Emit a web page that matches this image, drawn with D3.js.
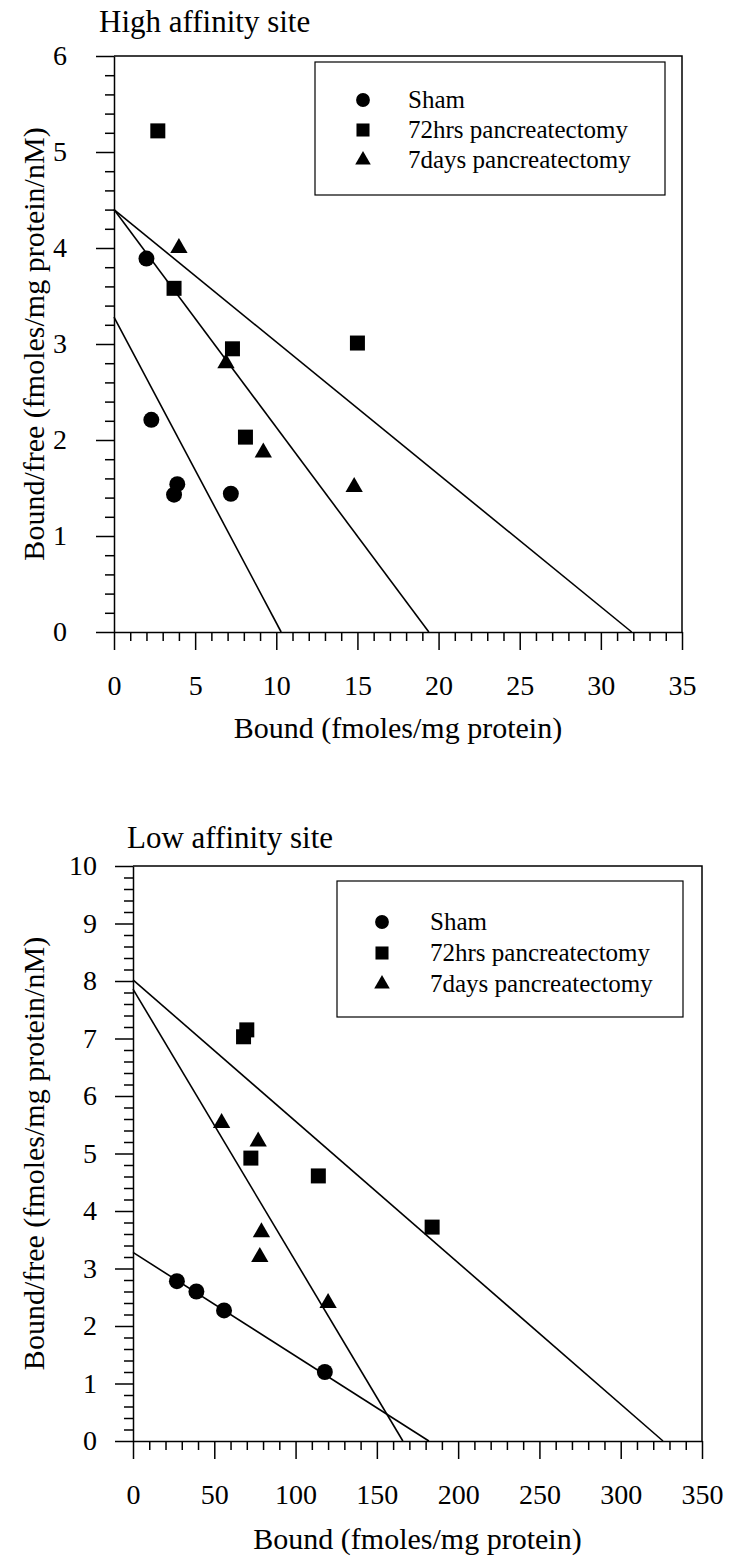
<!DOCTYPE html>
<html>
<head>
<meta charset="utf-8">
<script src="https://cdn.jsdelivr.net/npm/d3@7"></script>
<style>
  body { margin: 0; background: #fff; }
</style>
</head>
<body>
<script>
// ---- data: high affinity site (Bound, Bound/free) ----
var highSham  = [[2.0, 3.89], [2.3, 2.21], [3.9, 1.54], [3.7, 1.43], [7.2, 1.44]];
var high72hrs = [[2.7, 5.22], [3.7, 3.58], [7.3, 2.95], [8.1, 2.03], [15.0, 3.01]];
var high7days = [[4.0, 4.00], [6.9, 2.80], [9.2, 1.87], [14.8, 1.51]];
// fitted lines: y-intercept (Bound/free) and x-intercept (Bound)
var highFitY = [3.28, 4.40, 4.40];
var highFitX = [10.3, 19.4, 31.9];
var highXTicks = [0, 5, 10, 15, 20, 25, 30, 35];
var highYTicks = [0, 1, 2, 3, 4, 5, 6];

// ---- data: low affinity site ----
var lowSham  = [[27, 2.78], [39, 2.60], [56, 2.27], [118, 1.20]];
var low72hrs = [[68, 7.03], [70, 7.15], [72.5, 4.92], [114, 4.61], [184, 3.72]];
var low7days = [[54.5, 5.53], [77, 5.21], [79, 3.63], [78, 3.20], [120, 2.40]];
var lowFitY = [3.28, 7.86, 8.02];
var lowFitX = [182, 166, 326];
var lowXTicks = [0, 50, 100, 150, 200, 250, 300, 350];
var lowYTicks = [0, 1, 2, 3, 4, 5, 6, 7, 8, 9, 10];

var seriesNames = ["Sham", "72hrs pancreatectomy", "7days pancreatectomy"];

var FONT = '"Liberation Serif", "Times New Roman", serif';

var svg = d3.select("body").append("svg")
    .attr("width", 729)
    .attr("height", 1564)
    .style("font-family", FONT);

var shapes = [d3.symbolCircle, d3.symbolSquare, d3.symbolTriangle];
var markSize = [200, 225, 130];
var legendSize = [150, 170, 105];

function drawPanel(p) {
  var x = d3.scaleLinear().domain([p.xTicks[0], p.xTicks[p.xTicks.length - 1]]).range([p.left, p.right]);
  var y = d3.scaleLinear().domain([p.yTicks[0], p.yTicks[p.yTicks.length - 1]]).range([p.bottom, p.top]);
  var g = svg.append("g");

  // top and right frame
  g.append("path")
      .attr("d", "M" + p.left + "," + p.top + "H" + p.right + "V" + p.bottom)
      .attr("fill", "none").attr("stroke", "#000").attr("stroke-width", 1.5);

  // minor ticks
  var xMinor = d3.range(p.xTicks[0], p.xTicks[p.xTicks.length - 1], p.xMinor)
      .filter(function(v) { return p.xTicks.indexOf(v) < 0; });
  var yMinor = d3.range(0, p.yTicks.length * 5 - 4).map(function(i) { return i / 5; })
      .filter(function(v) { return Math.abs(v - Math.round(v)) > 1e-6; });

  g.append("g").attr("transform", "translate(0," + p.bottom + ")")
      .call(d3.axisBottom(x).tickValues(xMinor).tickSize(9).tickFormat(""))
      .call(function(a) { a.select(".domain").remove(); });
  g.append("g").attr("transform", "translate(" + p.left + ",0)")
      .call(d3.axisLeft(y).tickValues(yMinor).tickSize(9).tickFormat(""))
      .call(function(a) { a.select(".domain").remove(); });

  // major axes
  var xa = g.append("g").attr("transform", "translate(0," + p.bottom + ")")
      .call(d3.axisBottom(x).tickValues(p.xTicks).tickFormat(d3.format("d"))
        .tickSize(18).tickSizeOuter(0).tickPadding(p.xPad));
  var ya = g.append("g").attr("transform", "translate(" + p.left + ",0)")
      .call(d3.axisLeft(y).tickValues(p.yTicks).tickFormat(d3.format("d"))
        .tickSize(18).tickSizeOuter(0).tickPadding(p.yPad));
  [xa, ya].forEach(function(a) {
    a.attr("font-family", FONT).attr("font-size", 28);
    a.selectAll("text").attr("fill", "#000");
  });
  g.selectAll("path.domain, .tick line").attr("stroke", "#000").attr("stroke-width", 1.5);

  // titles
  g.append("text").attr("x", p.titleX).attr("y", p.titleY)
      .attr("font-size", 31).text(p.title);
  g.append("text")
      .attr("x", (p.left + p.right) / 2).attr("y", p.bottom + p.xTitleGap)
      .attr("text-anchor", "middle").attr("font-size", 30)
      .text("Bound (fmoles/mg protein)");
  g.append("text")
      .attr("transform", "translate(44," + (p.top + p.bottom) / 2 + ") rotate(-90)")
      .attr("text-anchor", "middle").attr("font-size", 30)
      .text("Bound/free (fmoles/mg protein/nM)");

  // fitted lines
  g.selectAll(".fit").data(p.fitY).enter().append("line")
      .attr("x1", x(0)).attr("y1", function(d) { return y(d); })
      .attr("x2", function(d, i) { return x(p.fitX[i]); }).attr("y2", y(0))
      .attr("stroke", "#000").attr("stroke-width", 1.6);

  // points
  p.series.forEach(function(s, i) {
    g.selectAll(null).data(s).enter().append("path")
        .attr("d", d3.symbol(shapes[i], markSize[i]))
        .attr("transform", function(d) { return "translate(" + x(d[0]) + "," + y(d[1]) + ")"; })
        .attr("fill", "#000");
  });

  // legend
  var L = p.legend;
  g.append("rect").attr("x", L.x).attr("y", L.y).attr("width", L.w).attr("height", L.h)
      .attr("fill", "#fff").attr("stroke", "#000").attr("stroke-width", 1.2);
  seriesNames.forEach(function(name, i) {
    var cy = L.y + L.first + i * L.step;
    g.append("path").attr("d", d3.symbol(shapes[i], legendSize[i]))
        .attr("transform", "translate(" + L.symX + "," + cy + ")").attr("fill", "#000");
    g.append("text").attr("x", L.textX).attr("y", cy + 8)
        .attr("font-size", 25).text(name);
  });
}

drawPanel({
  title: "High affinity site", titleX: 99, titleY: 32,
  left: 114, right: 682, top: 56, bottom: 632,
  xTicks: highXTicks, yTicks: highYTicks, xMinor: 1, xPad: 25, yPad: 29, xTitleGap: 106,
  series: [highSham, high72hrs, high7days],
  fitY: highFitY, fitX: highFitX,
  legend: { x: 315, y: 62, w: 350, h: 133, first: 38, step: 30, symX: 363, textX: 408 }
});

drawPanel({
  title: "Low affinity site", titleX: 127, titleY: 848,
  left: 133, right: 702, top: 866, bottom: 1441,
  xTicks: lowXTicks, yTicks: lowYTicks, xMinor: 10, xPad: 25, yPad: 18, xTitleGap: 108,
  series: [lowSham, low72hrs, low7days],
  fitY: lowFitY, fitX: lowFitX,
  legend: { x: 337, y: 881, w: 346, h: 136, first: 41, step: 31, symX: 382, textX: 430 }
});
</script>
</body>
</html>
